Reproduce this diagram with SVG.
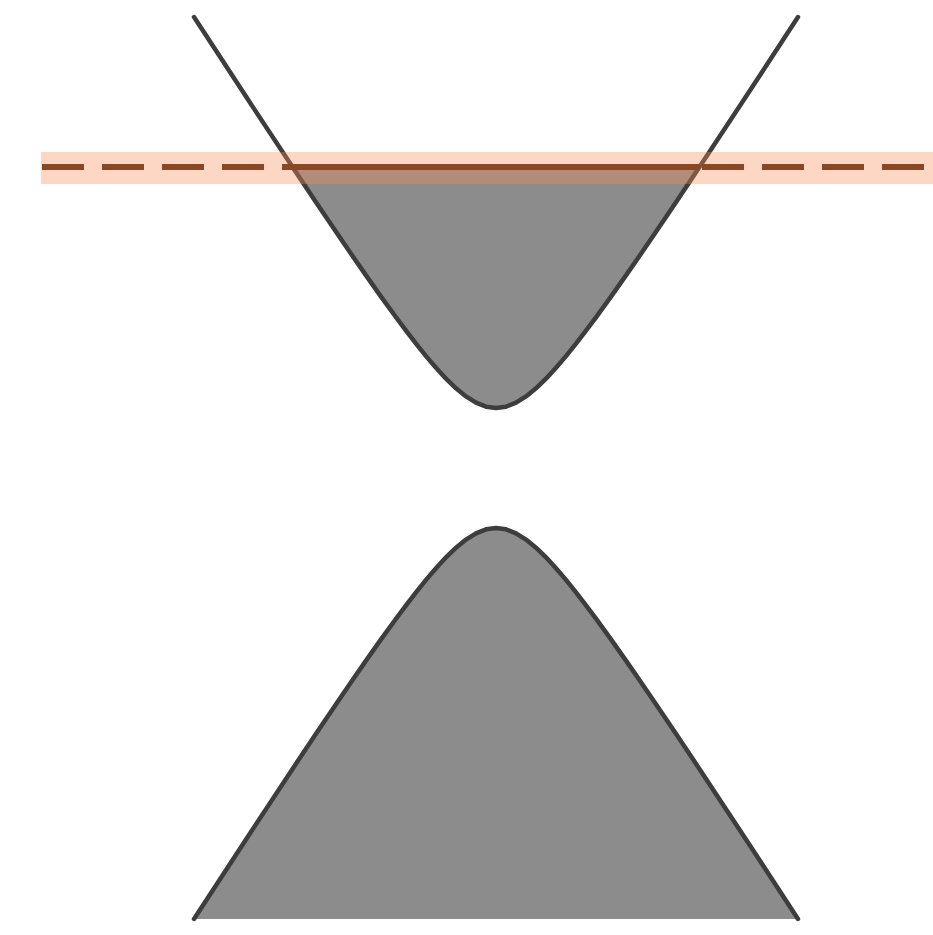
<svg xmlns="http://www.w3.org/2000/svg" width="933" height="935" viewBox="0 0 933 935">
<style>
.fill{fill:#8c8c8c;stroke:none}
.curve{fill:none;stroke:#3d3d3d;stroke-width:4.5;stroke-linejoin:round;stroke-linecap:round}
.band{fill:#f98c56;fill-opacity:0.35}
.lvl{stroke:#8a4722;stroke-width:6;fill:none}
</style>
<rect width="933" height="935" fill="#ffffff"/>
<g id="conduction-band">
<path class="fill" d="M292.5,167 L296,172.3 316,202.2 336,231.8 351,253.8 366,275.4 381,296.65 396,317.3 406,330.7 416,343.7 426,356.1 436,367.8 446,378.65 456,388.3 466,396.45 476,402.7 486,406.65 496,408 506,406.65 516,402.7 526,396.45 536,388.3 546,378.65 556,367.8 566,356.1 576,343.7 586,330.7 596,317.3 611,296.65 626,275.4 641,253.8 656,231.8 676,202.2 696,172.3 699.5,167 Z"/>
<polyline class="curve" points="194,17.1 246,96.6 296,172.3 316,202.2 336,231.8 351,253.8 366,275.4 381,296.65 396,317.3 406,330.7 416,343.7 426,356.1 436,367.8 446,378.65 456,388.3 466,396.45 476,402.7 486,406.65 496,408 506,406.65 516,402.7 526,396.45 536,388.3 546,378.65 556,367.8 566,356.1 576,343.7 586,330.7 596,317.3 611,296.65 626,275.4 641,253.8 656,231.8 676,202.2 696,172.3 746,96.6 798,17.1"/>
</g>
<g id="valence-band">
<path class="fill" d="M194,918.9 L246,839.4 296,763.7 316,733.8 336,704.2 351,682.2 366,660.6 381,639.35 396,618.7 406,605.3 416,592.3 426,579.9 436,568.2 446,557.35 456,547.7 466,539.55 476,533.3 486,529.35 496,528 506,529.35 516,533.3 526,539.55 536,547.7 546,557.35 556,568.2 566,579.9 576,592.3 586,605.3 596,618.7 611,639.35 626,660.6 641,682.2 656,704.2 676,733.8 696,763.7 746,839.4 798,918.9 Z"/>
<polyline class="curve" points="194,918.9 246,839.4 296,763.7 316,733.8 336,704.2 351,682.2 366,660.6 381,639.35 396,618.7 406,605.3 416,592.3 426,579.9 436,568.2 446,557.35 456,547.7 466,539.55 476,533.3 486,529.35 496,528 506,529.35 516,533.3 526,539.55 536,547.7 546,557.35 556,568.2 566,579.9 576,592.3 586,605.3 596,618.7 611,639.35 626,660.6 641,682.2 656,704.2 676,733.8 696,763.7 746,839.4 798,918.9"/>
</g>
<g id="fermi-level">
<rect class="band" x="41" y="152" width="892" height="32"/>
<line class="lvl" x1="42" y1="167" x2="930" y2="167" stroke-dasharray="42 18"/>
<line class="lvl" x1="292" y1="167" x2="700" y2="167"/>
</g>
</svg>
